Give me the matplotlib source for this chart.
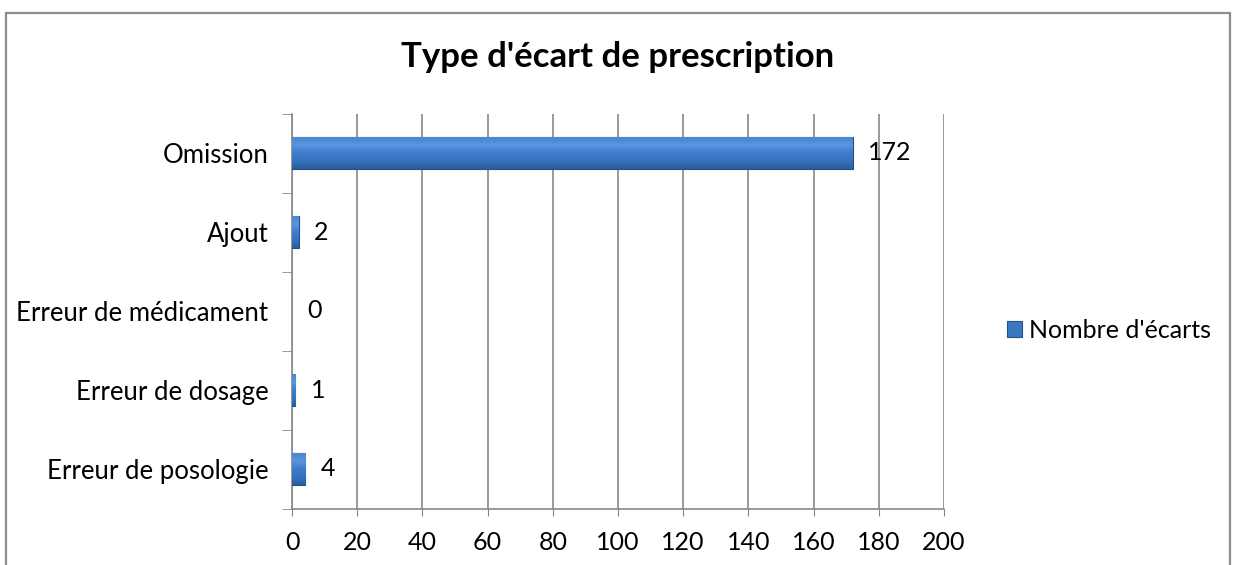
import numpy as np
import matplotlib.pyplot as plt
from matplotlib.patches import Rectangle
from matplotlib.colors import LinearSegmentedColormap

categories = ["Omission", "Ajout", "Erreur de médicament", "Erreur de dosage", "Erreur de posologie"]
values = [172, 2, 0, 1, 4]
series_name = "Nombre d'écarts"
title = "Type d'écart de prescription"
xticks = [0, 20, 40, 60, 80, 100, 120, 140, 160, 180, 200]

plt.rcParams['font.family'] = ['Lato', 'DejaVu Sans']
grid_col = "#878787"
bar_col = "#3B78C4"
edge_col = "#24508A"
grad = LinearSegmentedColormap.from_list("bev", ["#2A5E9E", "#3673BF", "#3C7CCB", "#5A95DC", "#4A86D2"])

fig = plt.figure(figsize=(12.34, 5.65), dpi=100)
ax = fig.add_axes([292/1234, 56.5/565, 652/1234, 395/565])

# chart frame (bottom cut off as in the picture)
fig.patches.append(Rectangle((6/1234, -0.1), 1224/1234, 1.1 - 13/565, transform=fig.transFigure,
                             fill=False, edgecolor="#8c8c8c", linewidth=1.6))

y = np.arange(len(categories))[::-1]
bars = ax.barh(y, values, height=0.4, color=bar_col, edgecolor=edge_col,
               linewidth=[0.8 if v > 0 else 0 for v in values],
               label=series_name, zorder=3)
# gradient fill to imitate the bevelled look
g = np.linspace(0, 1, 64).reshape(-1, 1)
for b in bars:
    if b.get_width() <= 0:
        continue
    x0, y0 = b.get_x(), b.get_y()
    im = ax.imshow(g, cmap=grad, aspect="auto", origin="lower",
                   extent=[x0, x0 + b.get_width(), y0, y0 + b.get_height()], zorder=3.5)
    im.set_clip_path(b)

for yi, v in zip(y, values):
    ax.annotate(str(v), (v, yi), xytext=(11, 0), textcoords="offset points",
                va="center", ha="left", fontsize=18)

ax.set_xlim(0, 200)
ax.set_ylim(-0.5, len(categories) - 0.5)
ax.set_xticks(xticks)
ax.tick_params(axis="x", labelsize=18, length=5, color=grid_col, pad=11)
ax.set_yticks(y)
ax.set_yticklabels(categories)
ax.tick_params(axis="y", which="major", length=0, labelsize=18.5, pad=17)
ax.set_yticks(np.arange(-0.5, len(categories), 1), minor=True)
ax.tick_params(axis="y", which="minor", length=7, color=grid_col)
ax.grid(axis="x", color=grid_col, linewidth=1.2, zorder=0)
for s in ["top", "right"]:
    ax.spines[s].set_visible(False)
for s in ["left", "bottom"]:
    ax.spines[s].set_color(grid_col)
    ax.spines[s].set_linewidth(1.2)

fig.text(618/1234, 1 - 57/565, title, ha="center", va="center", fontsize=25, fontweight="bold")

fig.legend(handles=[bars], labels=[series_name], loc="center left",
           bbox_to_anchor=(984/1234, 1 - 330/565), frameon=False, fontsize=18,
           handlelength=0.6, handleheight=0.6, handletextpad=0.3)

fig.savefig("out.png", dpi=100)
